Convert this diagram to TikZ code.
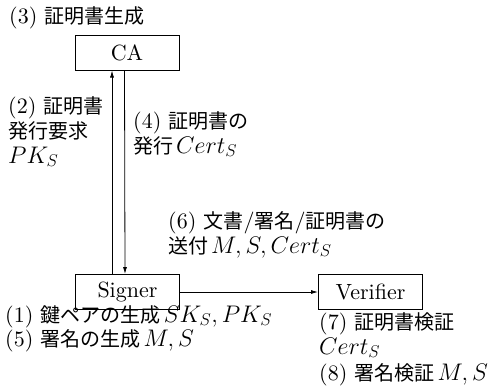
\RequirePackage{fix-cm}
\documentclass[tikz,border=0pt]{standalone}
\usepackage{fontspec}
\setmainfont{lmroman10-regular}[Extension=.otf, ItalicFont=lmroman10-italic]
\newfontfamily\jp[Scale=0.91]{Noto Sans CJK JP}
\DeclareMathSizes{22}{24}{17}{12}
\newcommand\js{\hspace{3pt}}
\usetikzlibrary{arrows.meta}
\tikzset{
  box/.style={draw, line width=1pt, minimum width=104pt, minimum height=35pt, inner sep=0pt, font=\fontsize{22}{26}\selectfont},
  lbl/.style={anchor=base west, inner sep=0pt, font=\fontsize{22}{26}\selectfont},
  arr/.style={line width=0.8pt, -{Latex[length=7pt,width=4pt]}}
}
\begin{document}
\begin{tikzpicture}[x=1pt,y=-1pt]
\useasboundingbox (0,0) rectangle (494,388);
\node[box] (ca) at (127,52.5) {CA};
\node[box] (sig) at (127.5,292) {Signer};
\node[box] (ver) at (370.5,292) {Verifier};
\draw[arr] ([xshift=-15.5pt]sig.north) -- ([xshift=-15pt]ca.south);
\draw[arr] ([xshift=-2.5pt]ca.south) -- ([xshift=-2.5pt]sig.north);
\draw[arr] (sig.east) -- (ver.west);
\node[lbl] (t3) at (9,23) {(3) {\jp 証明書生成}};
\node[lbl] (t2a) at (8,113) {(2) {\jp 証明書}};
\node[lbl] (t2b) at (8,138) {{\jp 発行要求}};
\node[lbl] (t2c) at (8,163) {$PK_S$};
\node[lbl] (t4a) at (133,128) {(4) {\jp 証明書の}};
\node[lbl] (t4b) at (133,153) {{\jp 発行}\js$Cert_S$};
\node[lbl] (t6a) at (168,228) {(6) {\jp 文書}/{\jp 署名}/{\jp 証明書の}};
\node[lbl] (t6b) at (168,253) {{\jp 送付}\js$M,S,Cert_S$};
\node[lbl] (t1) at (5,322) {(1) {\jp 鍵ペアの生成}\js$SK_S,PK_S$};
\node[lbl] (t5) at (5,346) {(5) {\jp 署名の生成}\js$M,S$};
\node[lbl] (t7) at (319,329) {(7) {\jp 証明書検証}};
\node[lbl] (t7b) at (319,354) {$Cert_S$};
\node[lbl] (t8) at (319,380) {(8) {\jp 署名検証}\js$M,S$};
\end{tikzpicture}
\end{document}
